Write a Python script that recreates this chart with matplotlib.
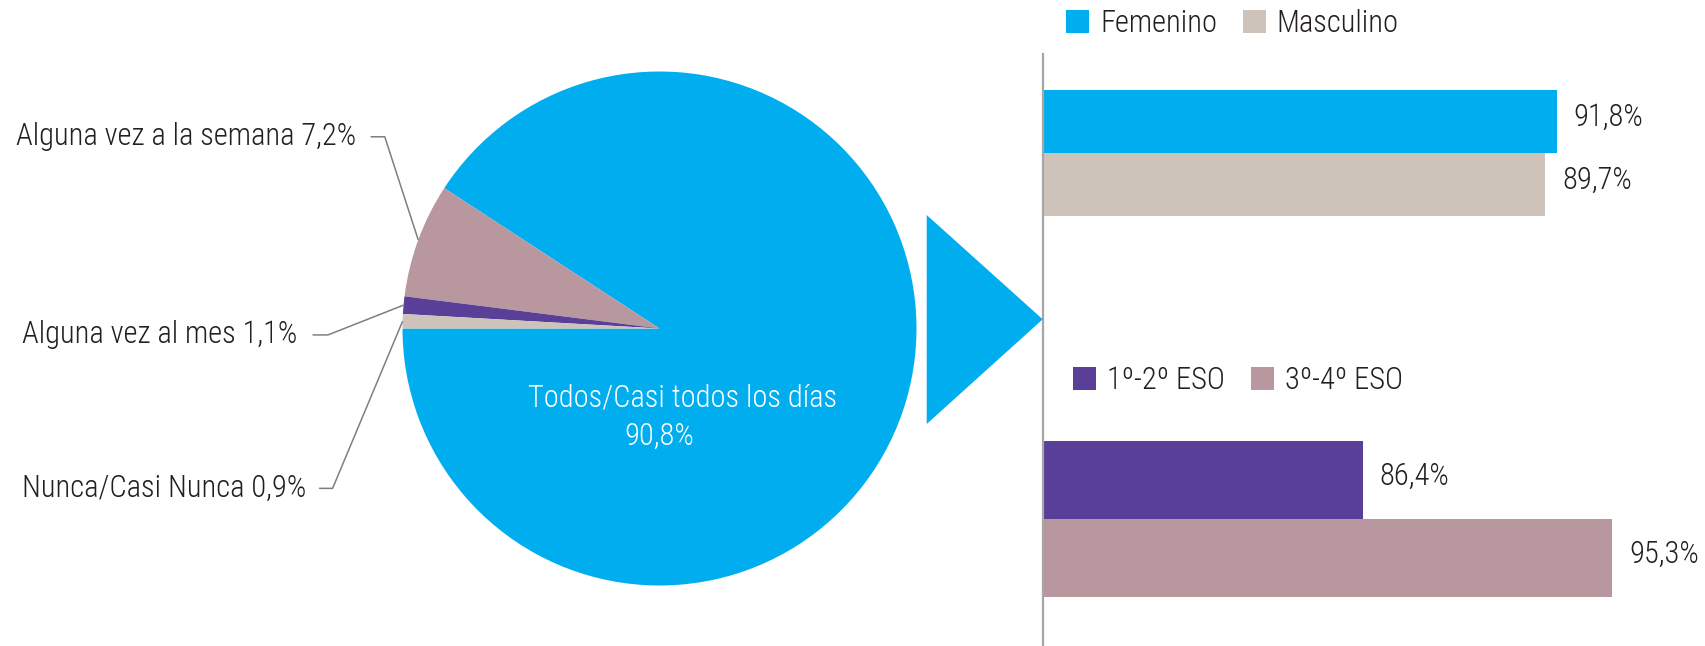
import matplotlib
matplotlib.use('Agg')
import matplotlib.pyplot as plt
from matplotlib import font_manager
from matplotlib.patches import Polygon
import numpy as np

# --- data ---
pie_labels = ['Todos/Casi todos los días', 'Alguna vez a la semana', 'Alguna vez al mes', 'Nunca/Casi Nunca']
pie_values = [90.8, 7.2, 1.1, 0.9]
pie_colors = ['#00AEEF', '#B9979E', '#5A3F98', '#CEC3BA']

sexo_labels = ['Femenino', 'Masculino']
sexo_values = [91.8, 89.7]
sexo_colors = ['#00AEEF', '#CEC3BA']

curso_labels = ['1º-2º ESO', '3º-4º ESO']
curso_values = [86.4, 95.3]
curso_colors = ['#5A3F98', '#B9979E']

# --- font: pick a narrow face if there is one ---
avail = {f.name for f in font_manager.fontManager.ttflist}
stretch = 'normal'
for cand in ['Roboto Condensed', 'Liberation Sans Narrow', 'Arial Narrow']:
    if cand in avail:
        family = cand
        break
else:
    family = 'DejaVu Sans'
    stretch = 'condensed'
plt.rcParams['font.family'] = [family, 'DejaVu Sans']
plt.rcParams['font.stretch'] = stretch
plt.rcParams['font.weight'] = 'light'
FS = 22
TXT = '#231F20'

W, H = 1705, 646
fig = plt.figure(figsize=(W / 100, H / 100), dpi=100)


def fx(px):
    return px / W


def fy(py):
    return 1 - py / H


def pct(v):
    return f'{v:.1f}'.replace('.', ',') + '%'


# --- pie ---
cx, cy, r = 659.5, 328.5, 257
ax_pie = fig.add_axes([fx(cx - r), fy(cy + r), 2 * r / W, 2 * r / H])
wedges, _ = ax_pie.pie(pie_values, colors=pie_colors, startangle=180, counterclock=True,
                       radius=1, wedgeprops=dict(linewidth=0))
ax_pie.set_xlim(-1, 1)
ax_pie.set_ylim(-1, 1)
ax_pie.axis('off')

# outside labels with elbow leaders (elbow x, line end x, text x, y) in pie units
leaders = [(-1.069, -1.124, -1.182, 0.746),
           (-1.290, -1.350, -1.410, -0.025),
           (-1.272, -1.325, -1.376, -0.622)]
for w, lab, val, (ex, lx, tx, ly) in zip(wedges[1:], pie_labels[1:], pie_values[1:], leaders):
    ang = np.deg2rad((w.theta1 + w.theta2) / 2)
    ax_pie.plot([np.cos(ang), ex, lx], [np.sin(ang), ly, ly], color='#7F7F7F', lw=1.1,
                clip_on=False, solid_capstyle='butt')
    ax_pie.text(tx, ly, f'{lab} {pct(val)}', ha='right', va='center', fontsize=FS,
                color=TXT, clip_on=False)

ax_pie.text(0.091, -0.270, pie_labels[0], ha='center', va='center', fontsize=FS, color='white')
ax_pie.text(0.0, -0.421, pct(pie_values[0]), ha='center', va='center', fontsize=FS, color='white')

# arrow triangle
fig.patches.append(Polygon([(fx(926.7), fy(215)), (fx(926.7), fy(424)), (fx(1042.7), fy(319.3))],
                           closed=True, facecolor='#00AEEF', edgecolor='none',
                           transform=fig.transFigure, figure=fig))

# --- bars ---
x0 = 1043
ax_top = fig.add_axes([fx(x0), fy(330), (W - x0) / W, 276 / H])
ax_bot = fig.add_axes([fx(x0), fy(646), (W - x0) / W, 316 / H])

bars_top = ax_top.barh(range(len(sexo_values)), sexo_values, height=1, color=sexo_colors)
ax_top.set_ylim(3.297, -1.063)
ax_top.set_xlim(0, 118.3)

bars_bot = ax_bot.barh(range(len(curso_values)), curso_values, height=1, color=curso_colors)
ax_bot.set_xlim(75, 98.6)
ax_bot.set_ylim(2.120, -1.916)

for ax, bars, vals in [(ax_top, bars_top, sexo_values), (ax_bot, bars_bot, curso_values)]:
    for b, v in zip(bars, vals):
        ax.annotate(pct(v), (v, b.get_y() + b.get_height() / 2), xytext=(17, 4),
                    textcoords='offset pixels', ha='left', va='center', fontsize=FS,
                    color=TXT, annotation_clip=False)
    for s in ['top', 'right', 'bottom']:
        ax.spines[s].set_visible(False)
    ax.spines['left'].set_color('#A6A6A6')
    ax.spines['left'].set_linewidth(1.6)
    ax.set_xticks([])
    ax.set_yticks([])
    ax.patch.set_alpha(0)

leg_kw = dict(loc='center left', frameon=False, ncol=2, fontsize=FS, borderpad=0,
              borderaxespad=0, handlelength=0.75, handleheight=0.75, handletextpad=0.36,
              columnspacing=0.85, labelcolor=TXT, bbox_transform=fig.transFigure)
ax_top.legend(bars_top, sexo_labels, bbox_to_anchor=(fx(1066), fy(23.5)), **leg_kw)
ax_bot.legend(bars_bot, curso_labels, bbox_to_anchor=(fx(1073), fy(380.5)), **leg_kw)

fig.savefig('out.png', dpi=100)
